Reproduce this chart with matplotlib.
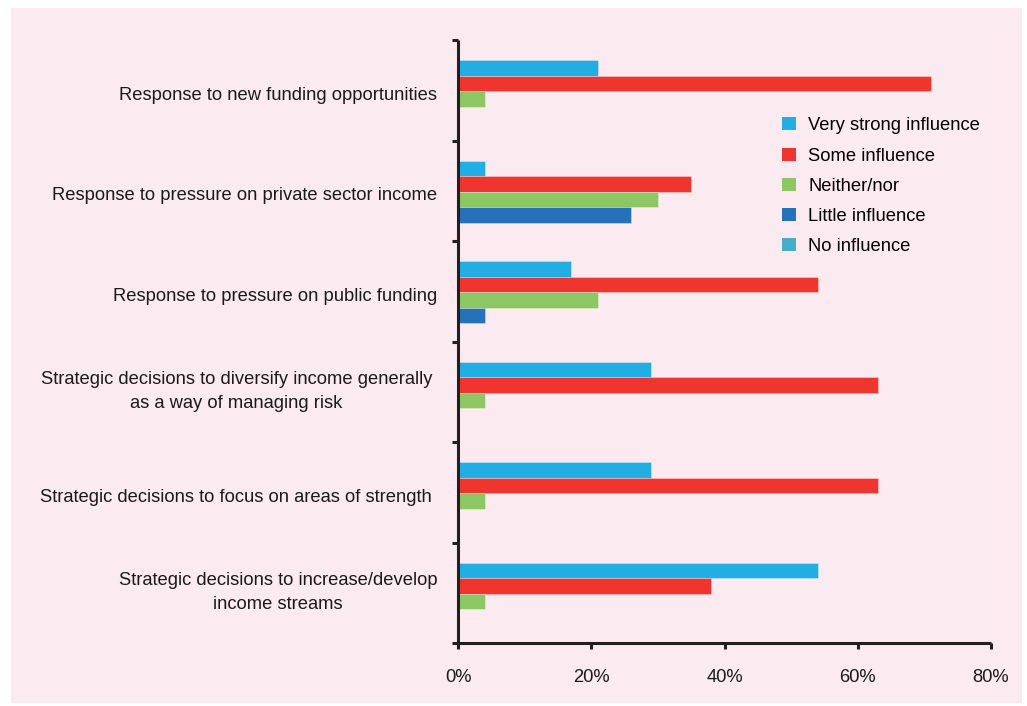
import matplotlib
matplotlib.use("Agg")
import matplotlib.pyplot as plt
import matplotlib.transforms as mtransforms
from matplotlib.patches import Rectangle
import numpy as np

plt.rcParams["font.family"] = ["Liberation Sans", "DejaVu Sans"]

categories = [
    "Response to new funding opportunities",
    "Response to pressure on private sector income",
    "Response to pressure on public funding",
    "Strategic decisions to diversify income generally \nas a way of managing risk ",
    "Strategic decisions to focus on areas of strength ",
    "Strategic decisions to increase/develop\nincome streams",
]
series_names = ["Very strong influence", "Some influence", "Neither/nor",
                "Little influence", "No influence"]
very_strong = [21, 4, 17, 29, 29, 54]
some = [71, 35, 54, 63, 63, 38]
neither = [4, 30, 21, 4, 4, 4]
little = [0, 26, 4, 0, 0, 0]
none_ = [0, 0, 0, 0, 0, 0]
x_ticks = [0, 20, 40, 60, 80]

COLORS = ["#23aee3", "#ef352d", "#8cc764", "#2672b9", "#46adc8"]
BG = "#fbebf1"
INK = "#231f20"
FS = 13.2

fig = plt.figure(figsize=(10.27, 7.06), dpi=100, facecolor="white")
# pink panel behind the chart
fig.patches.append(Rectangle((11 / 1027, 1 - 703 / 706), (1022 - 11) / 1027, (703 - 8) / 706,
                             transform=fig.transFigure, facecolor=BG, edgecolor="none", zorder=-10))
ax = fig.add_axes([458 / 1027, 1 - 643 / 706, (991 - 458) / 1027, (643 - 40) / 706])
ax.set_facecolor("none")

n = len(categories)
bar_h = 0.155
groups = np.arange(n)
for k, (vals, name) in enumerate(zip([very_strong, some, neither, little, none_], series_names)):
    ypos = groups + 0.2 + (k + 0.5) * bar_h
    ax.barh(ypos, vals, height=bar_h, color=COLORS[k], label=name,
            edgecolor=(1, 1, 1, 0.35), linewidth=0.6)

ax.set_xlim(0, 80)
ax.set_ylim(n, 0)

ax.set_xticks(x_ticks)
ax.set_xticklabels([f"{t}%" for t in x_ticks])
ax.set_yticks(np.arange(n + 1))
ax.set_yticklabels([])
ax.set_yticks(groups + 0.5, minor=True)
ax.set_yticklabels(categories, minor=True, multialignment="center", linespacing=1.55)

ax.tick_params(axis="y", which="major", direction="out", length=4, width=2.2, color=INK)
ax.tick_params(axis="y", which="minor", length=0, pad=15, labelsize=FS, labelcolor="#1a1a1a")
ax.tick_params(axis="x", direction="out", length=4, width=2.2, color=INK, pad=15,
               labelsize=FS, labelcolor="#1a1a1a")

# wrapped labels centred as a block, single lines nudged a little lower
nudge = mtransforms.ScaledTranslation(0, -3 / 100, fig.dpi_scale_trans)
for lbl in ax.get_yticklabels(minor=True):
    if "\n" in lbl.get_text():
        lbl.set_verticalalignment("center")
    else:
        lbl.set_transform(lbl.get_transform() + nudge)

for s in ["top", "right"]:
    ax.spines[s].set_visible(False)
for s in ["left", "bottom"]:
    ax.spines[s].set_linewidth(2.2)
    ax.spines[s].set_color(INK)
    ax.spines[s].set_capstyle("butt")

leg = ax.legend(loc="upper left", bbox_to_anchor=(775 / 1027, 1 - 110 / 706),
                bbox_transform=fig.transFigure, frameon=False, fontsize=FS,
                handlelength=0.72, handleheight=0.72, labelspacing=0.72,
                handletextpad=0.7, borderaxespad=0)
for h in leg.legend_handles:
    h.set_edgecolor("none")

fig.savefig("out.png", dpi=100, facecolor="white")
